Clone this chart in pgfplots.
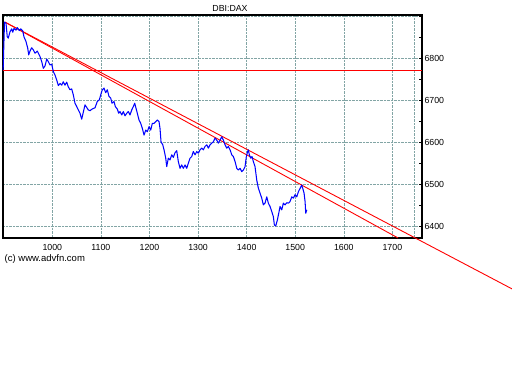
\documentclass[border=0pt]{standalone}
\usepackage{pgfplots}
\pgfplotsset{compat=1.18}
\usepackage{fontspec}
\setmainfont{Liberation Sans}
\definecolor{gridc}{RGB}{130,165,165}
\definecolor{lineblue}{RGB}{0,0,255}
\definecolor{linered}{RGB}{255,0,0}
\begin{document}
\begin{tikzpicture}[x=1pt,y=1pt]
\path[use as bounding box] (0,0) rectangle (512,384);
\begin{axis}[
  at={(3pt,146pt)}, anchor=south west,
  scale only axis, width=419pt, height=223pt,
  xmin=898.5, xmax=1761, ymin=6372, ymax=6903,
  clip=false,
  axis line style={line width=1.2pt, black},
  xtick={1000,1100,1200,1300,1400,1500,1600,1700,1746},
  xticklabels={1000,1100,1200,1300,1400,1500,1600,1700,{}},
  ytick={6400,6500,6600,6700,6800,6900},
  yticklabels={6400,6500,6600,6700,6800,{}},
  yticklabel pos=right, ytick pos=right, xtick pos=bottom,
  tick align=inside,
  x tick style={draw=none},
  major tick length=3pt, minor tick length=3pt,
  minor y tick num=1,
  y tick style={black, line width=0.6pt},
  grid=major,
  major grid style={densely dotted, color=gridc, line width=0.55pt},
  tick label style={font=\fontsize{8.8}{10}\selectfont},
  /pgf/number format/assume math mode=true,
  /pgf/number format/1000 sep={},
  xticklabel style={yshift=-2.4pt},
  yticklabel style={xshift=-1pt},
]
\addplot[linered, line width=0.9pt] coordinates {(898.5,6772) (1761,6772)};
\addplot[linered, line width=0.9pt] coordinates {(902.6,6886) (1946.5,6250.7)};
\addplot[linered, line width=0.9pt] coordinates {(902.6,6886) (1711.8,6372)};
\addplot[lineblue, line width=1.05pt, line join=round] coordinates {
(898.8,6772) (901.6,6886) (904.7,6883) (907.3,6851) (909.4,6848) (912.9,6863)
(916.4,6870) (918.5,6862) (921.1,6871) (925.3,6867) (927.9,6873) (932.1,6866)
(934.9,6870) (939.1,6865) (941.7,6851) (945.8,6840) (949.4,6824) (951.4,6808)
(954.1,6817) (957.6,6825) (960.9,6820) (964.4,6812) (969.1,6817) (974.7,6804)
(978.2,6792) (981.5,6776) (985.0,6782) (988.5,6798) (991.8,6792) (995.3,6784)
(998.8,6786) (1002.1,6768) (1005.6,6760) (1009.1,6748) (1012.4,6735) (1015.9,6740)
(1019.4,6736) (1022.6,6744) (1026.1,6736) (1029.6,6743) (1032.9,6732) (1036.4,6725)
(1039.9,6727) (1043.2,6713) (1046.7,6693) (1050.2,6685) (1053.5,6677) (1057.0,6669)
(1060.5,6655) (1067.3,6689) (1074.1,6677) (1077.6,6675) (1081.7,6679) (1087.9,6682)
(1092.6,6697) (1096.8,6701) (1099.7,6713) (1102.9,6725) (1106.4,6729) (1109.9,6718)
(1113.2,6725) (1116.7,6709) (1120.2,6705) (1122.9,6693) (1127.0,6697) (1129.7,6685)
(1133.8,6679) (1136.7,6669) (1139.4,6673) (1142.9,6665) (1146.2,6673) (1149.7,6663)
(1153.2,6669) (1156.5,6673) (1160.0,6665) (1163.5,6677) (1166.8,6685) (1169.7,6693)
(1172.3,6681) (1175.0,6669) (1178.5,6653) (1182.0,6645) (1185.3,6633) (1188.8,6617)
(1192.3,6629) (1195.6,6625) (1199.1,6637) (1202.6,6629) (1205.9,6645) (1209.4,6645)
(1212.9,6649) (1216.2,6653) (1219.7,6649) (1221.7,6633) (1223.8,6601) (1227.3,6594)
(1230.0,6582) (1233.5,6562) (1235.5,6542) (1238.8,6562) (1242.3,6558) (1245.8,6570)
(1249.1,6564) (1252.6,6575) (1256.1,6580) (1259.4,6554) (1262.9,6538) (1266.4,6546)
(1269.7,6538) (1273.2,6546) (1276.7,6538) (1280.0,6550) (1283.5,6562) (1287.0,6566)
(1290.3,6578) (1293.8,6570) (1297.3,6578) (1300.6,6574) (1304.1,6582) (1307.6,6586)
(1310.9,6582) (1314.4,6590) (1317.9,6594) (1321.2,6586) (1324.7,6594) (1328.2,6598)
(1331.5,6601) (1335.0,6610) (1338.5,6605) (1341.8,6598) (1345.3,6605) (1348.8,6613)
(1352.1,6605) (1355.6,6594) (1359.1,6586) (1362.4,6590) (1365.9,6582) (1369.4,6570)
(1372.7,6566) (1376.2,6554) (1379.7,6538) (1383.0,6534) (1386.5,6538) (1390.0,6530)
(1393.3,6534) (1396.8,6542) (1399.4,6566) (1401.9,6577) (1403.6,6582) (1405.6,6570)
(1408.5,6562) (1411.2,6566) (1413.8,6554) (1417.3,6542) (1420.8,6510) (1424.1,6491)
(1427.6,6479) (1431.1,6467) (1434.4,6451) (1437.9,6455) (1441.4,6470) (1444.7,6455)
(1448.2,6447) (1451.7,6435) (1455.0,6423) (1457.1,6403) (1460.0,6401) (1463.3,6415)
(1466.8,6435) (1468.8,6447) (1472.3,6439) (1475.6,6455) (1479.1,6451) (1482.6,6456)
(1485.9,6455) (1489.4,6459) (1492.9,6470) (1496.2,6467) (1499.7,6475) (1503.2,6470)
(1506.5,6482) (1510.0,6490) (1513.5,6498) (1515.6,6490) (1518.2,6479) (1520.3,6459)
(1521.7,6431) (1523.8,6439)
};
\end{axis}
\node[font=\fontsize{8.8}{10}\selectfont] at (230pt,375.5pt) {DBI:DAX};
\node[anchor=west, inner sep=0pt, font=\fontsize{9.5}{11}\selectfont] at (4.5pt,125pt) {(c) www.advfn.com};
\end{tikzpicture}
\end{document}
